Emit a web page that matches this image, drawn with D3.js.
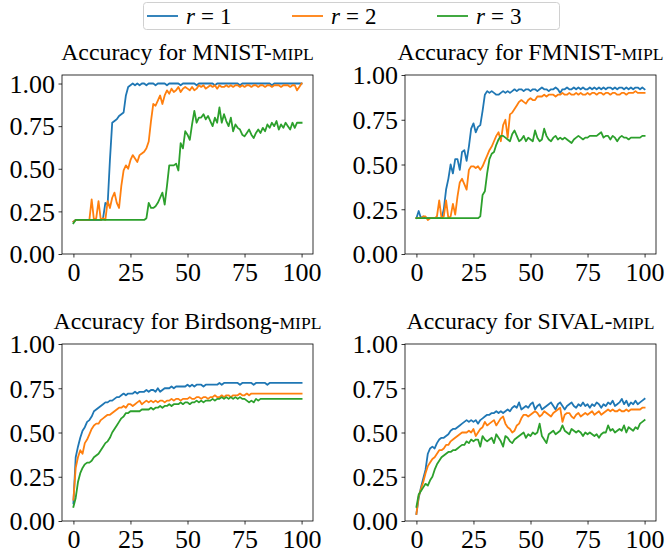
<!DOCTYPE html>
<html><head><meta charset="utf-8">
<script src="https://cdn.jsdelivr.net/npm/d3@7"></script>
<style>body{margin:0;background:#fff}svg{display:block}</style>
</head><body>
<svg id="c" width="668" height="554"></svg>
<script>
const epochs = d3.range(0, 101);
const seriesNames = ["r = 1", "r = 2", "r = 3"];
const colors = ["#1f77b4", "#ff7f0e", "#2ca02c"];
const xTicks = [0, 25, 50, 75, 100];
const yTicks = [0, 0.25, 0.5, 0.75, 1.0];
const titles = ["MNIST", "FMNIST", "Birdsong", "SIVAL"];

const mnistR1 = [0.19,0.20,0.20,0.20,0.20,0.20,0.20,0.20,0.20,0.20,
 0.20,0.20,0.20,0.21,0.30,0.29,0.55,0.77,0.78,0.79,
 0.81,0.82,0.83,0.93,0.98,0.99,1.00,0.99,1.00,0.99,
 1.00,1.00,0.99,1.00,1.00,1.00,0.99,1.00,1.00,1.00,
 1.00,0.99,1.00,1.00,1.00,1.00,1.00,0.99,1.00,1.00,
 1.00,1.00,1.00,1.00,0.99,1.00,1.00,1.00,1.00,1.00,
 1.00,1.00,0.99,1.00,1.00,1.00,1.00,1.00,1.00,1.00,
 1.00,1.00,1.00,0.99,1.00,1.00,1.00,1.00,1.00,1.00,
 1.00,1.00,1.00,1.00,1.00,1.00,1.00,0.99,1.00,1.00,
 1.00,1.00,1.00,1.00,1.00,1.00,1.00,1.00,1.00,1.00,
 1.00];
const mnistR2 = [0.19,0.20,0.20,0.20,0.20,0.20,0.20,0.20,0.32,0.20,
 0.21,0.31,0.20,0.21,0.20,0.31,0.27,0.33,0.36,0.30,
 0.27,0.40,0.49,0.52,0.50,0.55,0.58,0.56,0.54,0.58,
 0.59,0.60,0.62,0.66,0.78,0.88,0.87,0.90,0.93,0.88,
 0.93,0.96,0.94,0.97,0.95,0.96,0.98,0.95,0.97,0.98,
 0.97,0.96,0.98,0.96,0.97,0.99,0.98,0.99,0.97,0.98,
 0.99,0.98,0.99,0.97,0.99,0.98,0.98,0.99,0.98,0.99,
 0.98,0.99,0.99,0.98,0.99,0.98,0.99,0.99,0.98,0.99,
 0.99,0.98,0.99,0.99,0.98,0.99,0.99,0.98,0.99,0.99,
 0.99,0.98,0.99,0.99,0.99,0.98,0.99,0.99,0.96,0.98,
 1.00];
const mnistR3 = [0.18,0.20,0.20,0.20,0.20,0.20,0.20,0.20,0.20,0.20,
 0.20,0.20,0.20,0.20,0.20,0.20,0.20,0.20,0.20,0.20,
 0.20,0.20,0.20,0.20,0.20,0.20,0.20,0.20,0.20,0.20,
 0.20,0.20,0.21,0.30,0.27,0.27,0.28,0.30,0.33,0.36,
 0.29,0.40,0.52,0.52,0.52,0.53,0.49,0.65,0.62,0.72,
 0.70,0.67,0.76,0.84,0.77,0.80,0.80,0.82,0.79,0.81,
 0.78,0.75,0.80,0.77,0.86,0.77,0.82,0.78,0.75,0.80,
 0.72,0.76,0.74,0.73,0.70,0.69,0.71,0.73,0.70,0.68,
 0.71,0.73,0.71,0.74,0.72,0.76,0.74,0.77,0.75,0.78,
 0.73,0.76,0.74,0.77,0.75,0.73,0.77,0.74,0.77,0.77,
 0.77];

const fmnistR1 = [0.20,0.24,0.20,0.21,0.20,0.20,0.20,0.20,0.20,0.20,
 0.20,0.20,0.25,0.36,0.42,0.50,0.45,0.53,0.53,0.47,
 0.57,0.58,0.52,0.60,0.70,0.73,0.68,0.71,0.72,0.80,
 0.89,0.91,0.90,0.91,0.90,0.89,0.89,0.90,0.91,0.90,
 0.91,0.90,0.91,0.92,0.91,0.92,0.92,0.91,0.92,0.92,
 0.91,0.92,0.92,0.91,0.92,0.93,0.92,0.92,0.91,0.92,
 0.92,0.93,0.92,0.90,0.92,0.92,0.93,0.92,0.92,0.93,
 0.92,0.93,0.92,0.93,0.92,0.92,0.93,0.92,0.93,0.92,
 0.93,0.92,0.93,0.92,0.93,0.93,0.92,0.93,0.92,0.93,
 0.93,0.92,0.93,0.92,0.93,0.92,0.93,0.93,0.92,0.93,
 0.92];
const fmnistR2 = [0.20,0.20,0.20,0.21,0.21,0.19,0.20,0.20,0.20,0.21,
 0.30,0.20,0.21,0.30,0.20,0.21,0.28,0.22,0.32,0.40,
 0.42,0.39,0.36,0.47,0.49,0.49,0.48,0.49,0.47,0.49,
 0.52,0.55,0.58,0.60,0.63,0.66,0.68,0.63,0.72,0.75,
 0.65,0.78,0.79,0.81,0.83,0.85,0.86,0.85,0.84,0.86,
 0.87,0.86,0.86,0.88,0.88,0.88,0.89,0.88,0.89,0.89,
 0.89,0.88,0.89,0.89,0.90,0.89,0.89,0.90,0.89,0.89,
 0.90,0.89,0.90,0.89,0.89,0.90,0.89,0.90,0.90,0.89,
 0.90,0.90,0.89,0.90,0.90,0.89,0.90,0.90,0.89,0.89,
 0.90,0.90,0.89,0.90,0.90,0.90,0.91,0.90,0.90,0.90,
 0.90];
const fmnistR3 = [0.20,0.20,0.20,0.20,0.20,0.20,0.20,0.20,0.20,0.20,
 0.20,0.20,0.20,0.20,0.20,0.20,0.20,0.20,0.20,0.20,
 0.20,0.20,0.20,0.20,0.20,0.20,0.20,0.20,0.21,0.33,
 0.35,0.45,0.53,0.56,0.57,0.61,0.64,0.66,0.66,0.65,
 0.64,0.63,0.67,0.69,0.66,0.63,0.64,0.66,0.63,0.65,
 0.64,0.63,0.69,0.65,0.63,0.64,0.70,0.66,0.64,0.63,
 0.65,0.66,0.64,0.65,0.64,0.65,0.64,0.63,0.62,0.64,
 0.65,0.66,0.65,0.64,0.65,0.65,0.66,0.66,0.66,0.66,
 0.67,0.68,0.65,0.66,0.66,0.64,0.66,0.65,0.63,0.65,
 0.66,0.65,0.65,0.64,0.65,0.65,0.65,0.65,0.65,0.66,
 0.66];

const birdR1 = [0.10,0.36,0.42,0.47,0.51,0.53,0.56,0.57,0.59,0.62,
 0.63,0.64,0.65,0.66,0.67,0.67,0.68,0.68,0.69,0.70,
 0.70,0.71,0.72,0.71,0.72,0.72,0.72,0.73,0.72,0.73,
 0.73,0.73,0.74,0.73,0.74,0.74,0.73,0.75,0.73,0.74,
 0.75,0.75,0.75,0.76,0.75,0.76,0.76,0.76,0.76,0.76,
 0.77,0.76,0.77,0.76,0.77,0.77,0.77,0.76,0.77,0.77,
 0.77,0.77,0.77,0.77,0.78,0.77,0.78,0.78,0.78,0.78,
 0.78,0.78,0.78,0.77,0.78,0.78,0.78,0.78,0.78,0.77,
 0.78,0.78,0.78,0.78,0.78,0.77,0.78,0.78,0.78,0.78,
 0.78,0.78,0.78,0.78,0.78,0.78,0.78,0.78,0.78,0.78,
 0.78];
const birdR2 = [0.12,0.30,0.36,0.40,0.38,0.44,0.46,0.49,0.52,0.54,
 0.55,0.55,0.57,0.58,0.59,0.60,0.60,0.61,0.62,0.63,
 0.64,0.64,0.65,0.64,0.66,0.66,0.65,0.66,0.67,0.68,
 0.66,0.67,0.68,0.67,0.68,0.67,0.68,0.67,0.68,0.68,
 0.67,0.68,0.68,0.69,0.68,0.69,0.69,0.68,0.69,0.69,
 0.69,0.70,0.69,0.69,0.70,0.70,0.69,0.70,0.70,0.69,
 0.70,0.70,0.71,0.70,0.70,0.71,0.70,0.71,0.71,0.70,
 0.71,0.71,0.71,0.72,0.71,0.71,0.72,0.71,0.72,0.72,
 0.72,0.72,0.72,0.72,0.72,0.72,0.72,0.72,0.72,0.72,
 0.72,0.72,0.72,0.72,0.72,0.72,0.72,0.72,0.72,0.72,
 0.72];
const birdR3 = [0.08,0.13,0.22,0.27,0.30,0.32,0.33,0.33,0.34,0.36,
 0.37,0.38,0.40,0.42,0.44,0.45,0.47,0.50,0.52,0.54,
 0.56,0.58,0.59,0.61,0.61,0.62,0.62,0.62,0.62,0.62,
 0.63,0.63,0.63,0.63,0.64,0.63,0.64,0.64,0.65,0.64,
 0.65,0.65,0.66,0.65,0.66,0.66,0.66,0.67,0.66,0.67,
 0.67,0.66,0.67,0.67,0.68,0.67,0.68,0.67,0.68,0.68,
 0.68,0.69,0.68,0.69,0.69,0.70,0.69,0.70,0.69,0.70,
 0.69,0.70,0.69,0.70,0.69,0.69,0.68,0.67,0.68,0.67,
 0.69,0.68,0.69,0.69,0.69,0.69,0.69,0.69,0.69,0.69,
 0.69,0.69,0.69,0.69,0.69,0.69,0.69,0.69,0.69,0.69,
 0.69];

const sivalR1 = [0.04,0.13,0.19,0.24,0.29,0.38,0.41,0.42,0.41,0.44,
 0.46,0.47,0.47,0.48,0.49,0.51,0.52,0.52,0.53,0.54,
 0.55,0.56,0.57,0.56,0.57,0.56,0.57,0.55,0.57,0.58,
 0.59,0.60,0.60,0.61,0.61,0.62,0.61,0.62,0.61,0.62,
 0.63,0.62,0.64,0.65,0.64,0.67,0.63,0.64,0.65,0.64,
 0.66,0.67,0.63,0.65,0.66,0.63,0.64,0.65,0.66,0.67,
 0.65,0.63,0.66,0.67,0.65,0.63,0.65,0.66,0.67,0.65,
 0.64,0.66,0.65,0.67,0.65,0.66,0.64,0.66,0.65,0.67,
 0.66,0.64,0.66,0.65,0.67,0.66,0.68,0.65,0.66,0.67,
 0.69,0.66,0.68,0.65,0.67,0.66,0.68,0.66,0.67,0.68,
 0.69];
const sivalR2 = [0.04,0.14,0.18,0.22,0.27,0.31,0.33,0.35,0.36,0.38,
 0.40,0.40,0.41,0.43,0.43,0.45,0.46,0.47,0.48,0.49,
 0.50,0.50,0.50,0.51,0.50,0.52,0.48,0.50,0.52,0.53,
 0.56,0.54,0.55,0.56,0.57,0.54,0.56,0.58,0.59,0.55,
 0.53,0.52,0.50,0.51,0.54,0.55,0.58,0.60,0.60,0.59,
 0.60,0.61,0.62,0.61,0.59,0.60,0.62,0.61,0.60,0.59,
 0.61,0.62,0.63,0.64,0.56,0.60,0.61,0.61,0.59,0.58,
 0.60,0.61,0.59,0.60,0.61,0.60,0.61,0.62,0.60,0.61,
 0.62,0.60,0.61,0.62,0.63,0.62,0.63,0.62,0.62,0.63,
 0.62,0.62,0.63,0.62,0.63,0.63,0.63,0.63,0.63,0.64,
 0.64];
const sivalR3 = [0.08,0.15,0.17,0.19,0.21,0.20,0.23,0.25,0.29,0.32,
 0.34,0.36,0.37,0.38,0.39,0.39,0.40,0.40,0.41,0.42,
 0.43,0.43,0.45,0.44,0.46,0.45,0.46,0.46,0.42,0.48,
 0.46,0.45,0.46,0.47,0.44,0.49,0.47,0.45,0.42,0.48,
 0.47,0.45,0.44,0.46,0.47,0.48,0.49,0.50,0.47,0.49,
 0.48,0.50,0.49,0.50,0.55,0.48,0.46,0.44,0.49,0.50,
 0.51,0.49,0.50,0.51,0.54,0.51,0.50,0.49,0.52,0.51,
 0.50,0.51,0.50,0.48,0.50,0.49,0.50,0.49,0.48,0.49,
 0.47,0.49,0.50,0.50,0.54,0.51,0.52,0.50,0.51,0.52,
 0.51,0.54,0.50,0.53,0.52,0.51,0.53,0.52,0.55,0.56,
 0.57];

const panels = [
  {name: titles[0], series: [mnistR1, mnistR2, mnistR3], box: [62, 75, 313, 254], ymax: 1.05},
  {name: titles[1], series: [fmnistR1, fmnistR2, fmnistR3], box: [405, 75, 656, 254], ymax: 1.0},
  {name: titles[2], series: [birdR1, birdR2, birdR3], box: [62, 344, 313, 521], ymax: 1.0},
  {name: titles[3], series: [sivalR1, sivalR2, sivalR3], box: [405, 344, 656, 521], ymax: 1.0}
];

const svg = d3.select("#c");
const FONT = "'Liberation Serif', 'Times New Roman', serif";

panels.forEach(p => {
  const [x0, y0, x1, y1] = p.box;
  const x = d3.scaleLinear().domain([-5, 105]).range([x0, x1]);
  const y = d3.scaleLinear().domain([0, p.ymax]).range([y1, y0]);
  const g = svg.append("g");

  const line = d3.line().x((d, i) => x(epochs[i])).y(d => y(d));
  p.series.forEach((s, k) => {
    g.append("path").datum(s).attr("d", line)
      .attr("fill", "none").attr("stroke", colors[k])
      .attr("stroke-width", 1.8).attr("stroke-linejoin", "round").attr("stroke-linecap", "square");
  });

  const xa = g.append("g").attr("transform", `translate(0,${y1})`)
    .call(d3.axisBottom(x).tickValues(xTicks).tickSize(3.5).tickPadding(3.5).tickFormat(d3.format("d")));
  const ya = g.append("g").attr("transform", `translate(${x0},0)`)
    .call(d3.axisLeft(y).tickValues(yTicks).tickSize(3.5).tickPadding(3.5).tickFormat(d3.format(".2f")));
  [xa, ya].forEach(a => {
    a.select(".domain").remove();
    a.selectAll("line").attr("stroke", "#000").attr("stroke-width", 0.8);
    a.selectAll("text").attr("font-family", FONT).attr("font-size", 26).attr("fill", "#000");
  });
  xa.selectAll("text").attr("dy", "0.76em");
  ya.selectAll("text").attr("dy", "0.34em");

  g.append("rect").attr("x", x0).attr("y", y0).attr("width", x1 - x0).attr("height", y1 - y0)
    .attr("fill", "none").attr("stroke", "#000").attr("stroke-width", 0.8);

  const t = g.append("text").attr("x", (x0 + x1) / 2).attr("y", y0 - 15)
    .attr("text-anchor", "middle").attr("font-family", FONT).attr("font-size", 23.8).attr("fill", "#000");
  t.append("tspan").text("Accuracy for " + p.name + "-");
  t.append("tspan").attr("font-size", 17.6).text("MIPL");
});

// legend
const lg = svg.append("g");
lg.append("rect").attr("x", 143.5).attr("y", 2.5).attr("width", 416).attr("height", 27)
  .attr("rx", 3).attr("fill", "#fff").attr("stroke", "#d0d0d0").attr("stroke-width", 1);
const lx = [147, 292, 437];
seriesNames.forEach((n, k) => {
  lg.append("line").attr("x1", lx[k]).attr("x2", lx[k] + 31).attr("y1", 16).attr("y2", 16)
    .attr("stroke", colors[k]).attr("stroke-width", 1.8);
  const tx = lg.append("text").attr("x", lx[k] + 39).attr("y", 24)
    .attr("font-family", FONT).attr("font-size", 23).attr("fill", "#000");
  const parts = n.split(" = ");
  tx.append("tspan").attr("font-style", "italic").text(parts[0]);
  tx.append("tspan").attr("dx", 6).text("=");
  tx.append("tspan").attr("dx", 6).text(parts[1]);
});
</script>
</body></html>
